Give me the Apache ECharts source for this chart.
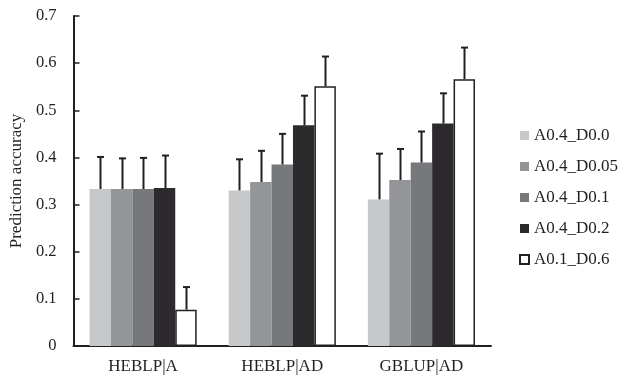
<!DOCTYPE html>
<html>
<head>
<meta charset="utf-8">
<script src="https://cdn.jsdelivr.net/npm/echarts@6/dist/echarts.min.js"></script>
<style>html,body{margin:0;padding:0;background:#fff}#c{width:630px;height:376px}</style>
</head>
<body>
<div id="c"></div>
<script>
const categories = ['HEBLP|A', 'HEBLP|AD', 'GBLUP|AD'];
const seriesNames = ['A0.4_D0.0', 'A0.4_D0.05', 'A0.4_D0.1', 'A0.4_D0.2', 'A0.1_D0.6'];
const s1 = [0.333, 0.330, 0.311];
const s2 = [0.333, 0.348, 0.352];
const s3 = [0.333, 0.385, 0.389];
const s4 = [0.335, 0.468, 0.472];
const s5 = [0.077, 0.551, 0.566];
const sd1 = [0.068, 0.066, 0.097];
const sd2 = [0.065, 0.066, 0.066];
const sd3 = [0.066, 0.065, 0.066];
const sd4 = [0.069, 0.063, 0.064];
const sd5 = [0.048, 0.063, 0.067];
const yTicks = [0, 0.1, 0.2, 0.3, 0.4, 0.5, 0.6, 0.7];

const means = [s1, s2, s3, s4, s5];
const sds = [sd1, sd2, sd3, sd4, sd5];
const colors = ['#c7c8ca', '#939598', '#77787b', '#2c2a2c', '#ffffff'];
const ink = '#231f20';
const font = "'Liberation Serif', 'DejaVu Serif', serif";
const catGap = 0.23;

const barSeries = seriesNames.map((n, k) => ({
  name: n,
  type: 'bar',
  data: means[k],
  barGap: '0%',
  barCategoryGap: (catGap * 100) + '%',
  itemStyle: k === 4 ? { color: '#ffffff', borderColor: ink, borderWidth: 1.5 } : { color: colors[k] },
  emphasis: { disabled: true },
  z: 2
}));

const errData = [];
for (let k = 0; k < 5; k++) {
  for (let c = 0; c < categories.length; c++) {
    errData.push([c, k, means[k][c], means[k][c] + sds[k][c]]);
  }
}

const errSeries = {
  name: 'err',
  type: 'custom',
  data: errData,
  encode: { x: 0, y: 3 },
  z: 5,
  silent: true,
  renderItem: function (params, api) {
    const c = api.value(0), k = api.value(1), m = api.value(2), t = api.value(3);
    const base = api.coord([c, 0]);
    const bandW = api.size([1, 0])[0];
    const bw = bandW * (1 - catGap) / 5;
    const x = Math.round(base[0] + (k - 2) * bw) + 0.5;
    const y1 = api.coord([c, m])[1];
    const y2 = api.coord([c, t])[1];
    const hw = 3.5;
    const style = { stroke: ink, lineWidth: 2 };
    return {
      type: 'group',
      children: [
        { type: 'line', shape: { x1: x, y1: y1, x2: x, y2: y2 }, style: style },
        { type: 'line', shape: { x1: x - hw, y1: y2, x2: x + hw, y2: y2 }, style: style }
      ]
    };
  }
};

const chart = echarts.init(document.getElementById('c'), null, { renderer: 'canvas' });
chart.setOption({
  animation: false,
  backgroundColor: '#ffffff',
  textStyle: { fontFamily: font, color: ink },
  grid: { left: 73, right: 139, top: 16, bottom: 30, containLabel: false },
  legend: {
    data: seriesNames,
    orient: 'vertical',
    left: 514,
    top: 122,
    itemWidth: 9,
    itemHeight: 9,
    itemGap: 14,
    icon: 'rect',
    textStyle: { fontFamily: font, fontSize: 17, color: ink },
    selectedMode: false
  },
  xAxis: {
    type: 'category',
    data: categories,
    axisLine: { lineStyle: { color: ink, width: 2 } },
    axisTick: { inside: true, length: 6, lineStyle: { color: ink, width: 1.5 } },
    axisLabel: { fontFamily: font, fontSize: 17, color: ink, margin: 12 },
    splitLine: { show: false }
  },
  yAxis: {
    type: 'value',
    min: yTicks[0],
    max: yTicks[yTicks.length - 1],
    interval: 0.1,
    name: 'Prediction accuracy',
    nameLocation: 'middle',
    nameGap: 46,
    nameTextStyle: { fontFamily: font, fontSize: 17, color: ink },
    axisLine: { show: true, lineStyle: { color: ink, width: 2 } },
    axisTick: { show: true, inside: true, length: 6, lineStyle: { color: ink, width: 1.5 } },
    axisLabel: {
      fontFamily: font, fontSize: 16.5, color: ink, margin: 17,
      formatter: v => (Math.abs(v) < 1e-9 ? '0' : v.toFixed(1))
    },
    splitLine: { show: false }
  },
  series: barSeries.concat([errSeries])
});
</script>
</body>
</html>
